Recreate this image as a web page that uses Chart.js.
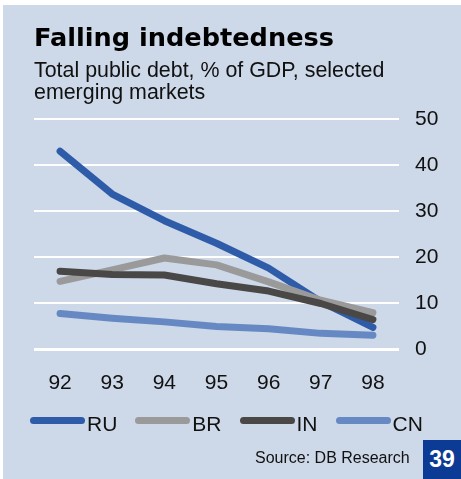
<!DOCTYPE html>
<html>
<head>
<meta charset="utf-8">
<title>Falling indebtedness</title>
<script src="https://cdn.jsdelivr.net/npm/chart.js@4.4.1/dist/chart.umd.min.js"></script>
<style>
  html, body { margin: 0; padding: 0; background: #fff; }
  body { width: 461px; height: 479px; position: relative; overflow: hidden; font-family: "Liberation Sans", Arial, sans-serif; }
  #panel { position: absolute; left: 3px; top: 5px; width: 458px; height: 474px; background: #cdd8e8; }
  #wrap { position: absolute; left: 0; top: 0; width: 461px; height: 479px; }
  #legend { position: absolute; left: 30px; top: 412px; display: flex; align-items: center; font-size: 21px; color: #111; }
  #legend .item { display: flex; align-items: center; margin-right: 18px; }
  #legend .line { width: 55px; height: 7px; border-radius: 4px; margin-right: 2px; position: relative; top: -4px; }
  #source { position: absolute; left: 255px; top: 449px; font-size: 16px; color: #111; }
  #page { position: absolute; left: 423px; top: 440px; width: 38px; height: 39px; background: #0b3b94; color: #fff; font-weight: bold; font-size: 23px; line-height: 39px; text-align: center; }
</style>
</head>
<body>
<div id="panel"></div>
<div id="wrap"><canvas id="myChart"></canvas></div>
<div id="legend"></div>
<div id="source">Source: DB Research</div>
<div id="page">39</div>
<script>
var years = ['92', '93', '94', '95', '96', '97', '98'];

// public debt, % of GDP
var ruDebt = [43, 33.7, 27.9, 23, 17.6, 10.3, 4.7];
var brDebt = [14.7, 17.2, 19.8, 18.3, 14.6, 10.6, 7.9];
var inDebt = [16.9, 16.2, 16.1, 14.2, 12.6, 9.9, 6.4];
var cnDebt = [7.7, 6.7, 5.9, 4.9, 4.4, 3.4, 3.0];

var yTicks = [0, 10, 20, 30, 40, 50];

var font = 'Liberation Sans, Arial, sans-serif';

function series(label, data, color, order) {
    return {
        label: label,
        data: data,
        borderColor: color,
        backgroundColor: color,
        borderWidth: 7,
        borderCapStyle: 'round',
        borderJoinStyle: 'round',
        pointRadius: 0,
        tension: 0,
        order: order
    };
}

var chartData = {
    labels: years,
    datasets: [
        series('RU', ruDebt, '#2e5ca8', 3),
        series('BR', brDebt, '#9a9a9a', 2),
        series('IN', inDebt, '#4a4747', 1),
        series('CN', cnDebt, '#6689c3', 0)
    ]
};

var chartOptions = {
    responsive: false,
    animation: false,
    layout: {
        padding: { left: 34, right: 22, top: 0, bottom: 80 }
    },
    plugins: {
        legend: { display: false },
        tooltip: { enabled: false },
        title: {
            display: true,
            text: 'Falling indebtedness',
            align: 'start',
            color: '#000',
            font: { family: 'DejaVu Sans', size: 25.6, weight: 'bold', lineHeight: 1.2 },
            padding: { top: 24.3, bottom: 0 }
        },
        subtitle: {
            display: true,
            text: ['Total public debt, % of GDP, selected', 'emerging markets'],
            align: 'start',
            color: '#111',
            font: { family: font, size: 21.4, lineHeight: 1.028 },
            padding: { top: 5.5, bottom: 14.6 }
        }
    },
    scales: {
        x: {
            offset: true,
            grid: { display: false },
            border: { display: false },
            ticks: { color: '#111', font: { family: font, size: 21 }, padding: 14 },
            afterFit: function (scale) { scale.height = 50; }
        },
        y: {
            position: 'right',
            min: 0,
            max: 50,
            afterBuildTicks: function (scale) {
                scale.ticks = yTicks.map(function (v) { return { value: v }; });
            },
            grid: {
                color: '#ffffff',
                lineWidth: function (ctx) { return ctx.tick && ctx.tick.value === 0 ? 3 : 2; },
                drawTicks: false
            },
            border: { display: false },
            ticks: { color: '#111', font: { family: font, size: 21 }, padding: 16 },
            afterFit: function (scale) { scale.width = 40; }
        }
    }
};

var canvas = document.getElementById('myChart');
canvas.width = 461;
canvas.height = 479;
var chart = new Chart(canvas.getContext('2d'), { type: 'line', data: chartData, options: chartOptions });

// legend built from the datasets, in data order
var legend = document.getElementById('legend');
chart.data.datasets.forEach(function (ds) {
    var item = document.createElement('div');
    item.className = 'item';
    var line = document.createElement('span');
    line.className = 'line';
    line.style.background = ds.borderColor;
    var text = document.createElement('span');
    text.textContent = ds.label;
    item.appendChild(line);
    item.appendChild(text);
    legend.appendChild(item);
});
</script>
</body>
</html>
